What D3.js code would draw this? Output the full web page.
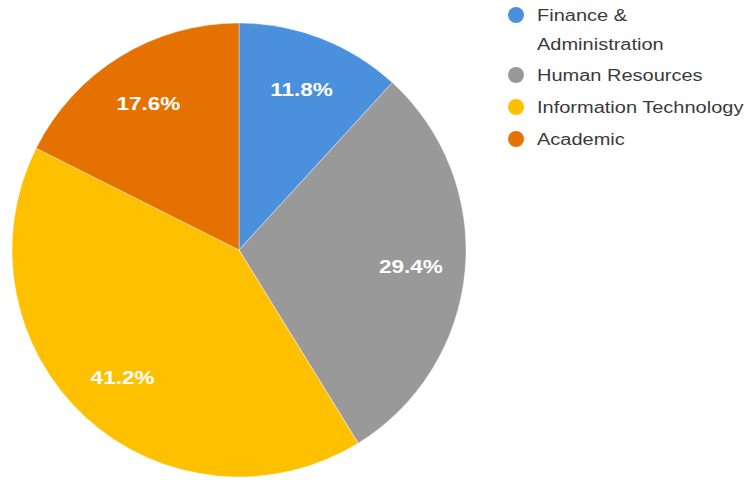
<!DOCTYPE html>
<html>
<head>
<meta charset="utf-8">
<script src="https://cdn.jsdelivr.net/npm/d3@7"></script>
<style>
  html, body { margin: 0; padding: 0; background: #fff; }
  svg { display: block; }
</style>
</head>
<body>
<svg id="chart" width="751" height="480"></svg>
<script>
// Department share of the total
const categories = ["Finance & Administration", "Human Resources", "Information Technology", "Academic"];
const legendLines = [["Finance &", "Administration"], ["Human Resources"], ["Information Technology"], ["Academic"]];
const shares = [11.8, 29.4, 41.2, 17.6];
const colors = ["#4a90dd", "#999999", "#ffc000", "#e57200"];

const svg = d3.select("#chart");
const cx = 239, cy = 250, radius = 227;
const stretch = 1.25; // wide-set lettering

const data = categories.map((c, i) => ({ name: c, value: shares[i], lines: legendLines[i] }));
const color = d3.scaleOrdinal().domain(categories).range(colors);

const pie = d3.pie().sort(null).value(d => d.value);
const arc = d3.arc().innerRadius(0).outerRadius(radius);
const labelArc = d3.arc().innerRadius(radius * 0.76).outerRadius(radius * 0.76);

const g = svg.append("g").attr("transform", `translate(${cx},${cy})`);
const arcs = pie(data);

g.selectAll("path.slice")
  .data(arcs)
  .join("path")
  .attr("class", "slice")
  .attr("d", arc)
  .attr("fill", d => color(d.data.name))
  .attr("stroke", "#fff")
  .attr("stroke-width", 0.4);

g.selectAll("text.pct")
  .data(arcs)
  .join("text")
  .attr("class", "pct")
  .attr("transform", d => `translate(${labelArc.centroid(d)}) scale(${stretch},1)`)
  .attr("text-anchor", "middle")
  .attr("dy", "0.36em")
  .attr("fill", "#fff")
  .attr("font-family", "'Liberation Sans', Arial, sans-serif")
  .attr("font-weight", "bold")
  .attr("font-size", 18)
  .text(d => d.data.value.toFixed(1) + "%");

// Legend
const legendX = 516;
const rowY = [15, 75, 107, 139];
const lineGap = 29;
const legend = svg.append("g");
const rows = legend.selectAll("g.row")
  .data(data)
  .join("g")
  .attr("class", "row")
  .attr("transform", (d, i) => `translate(${legendX},${rowY[i]})`);

rows.append("circle")
  .attr("r", 8)
  .attr("fill", d => color(d.name));

rows.each(function(d) {
  const t = d3.select(this).append("text")
    .attr("transform", `translate(21,0) scale(${stretch},1)`)
    .attr("fill", "#3a3a3a")
    .attr("font-family", "'Liberation Sans', Arial, sans-serif")
    .attr("font-size", 16);
  d.lines.forEach((line, j) => {
    t.append("tspan")
      .attr("x", 0)
      .attr("y", j * lineGap)
      .attr("dy", "0.35em")
      .text(line);
  });
});
</script>
</body>
</html>
